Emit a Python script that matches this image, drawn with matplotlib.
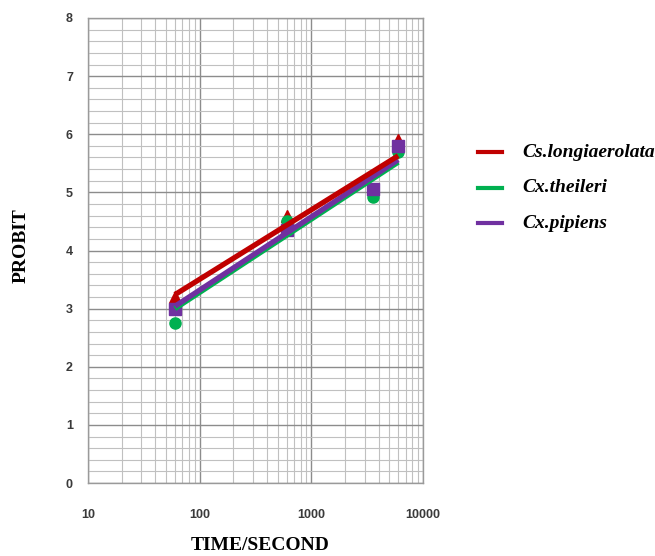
import numpy as np
import matplotlib
matplotlib.use("Agg")
import matplotlib.pyplot as plt
from matplotlib.ticker import FixedLocator, NullFormatter, LogLocator
from matplotlib.lines import Line2D

time_s = [60, 600, 3600, 6000]
species = ["Cs.longiaerolata", "Cx.theileri", "Cx.pipiens"]
probit_cs_longiaerolata = [3.2, 4.6, 5.05, 5.9]
probit_cx_theileri = [2.75, 4.5, 4.92, 5.7]
probit_cx_pipiens = [3.0, 4.35, 5.05, 5.8]
# trend lines (values at first and last time)
trend_time = [60, 6000]
trend_cs_longiaerolata = [3.24, 5.63]
trend_cx_theileri = [3.0, 5.52]
trend_cx_pipiens = [3.04, 5.56]
x_tick_labels = ["10", "100", "1000", "10000"]
y_ticks = [0, 1, 2, 3, 4, 5, 6, 7, 8]

colors = ["#C00000", "#00B050", "#7030A0"]
markers = ["^", "o", "s"]
series = [probit_cs_longiaerolata, probit_cx_theileri, probit_cx_pipiens]
trends = [trend_cs_longiaerolata, trend_cx_theileri, trend_cx_pipiens]

W, H = 655, 556
fig = plt.figure(figsize=(W / 100, H / 100), dpi=100)
ax = fig.add_axes([88 / W, 1 - 483 / H, 335 / W, 465 / H])
ax.set_xscale("log")
ax.set_xlim(10, 10000)
ax.set_ylim(0, 8)

# grid
ax.xaxis.set_major_locator(FixedLocator([10, 100, 1000, 10000]))
ax.xaxis.set_minor_locator(LogLocator(base=10, subs=np.arange(2, 10)))
ax.xaxis.set_minor_formatter(NullFormatter())
ax.yaxis.set_major_locator(FixedLocator(y_ticks))
ax.yaxis.set_minor_locator(FixedLocator(np.arange(0, 8.01, 0.2)))
ax.grid(which="major", color="#8c8c8c", linewidth=1.0)
ax.grid(which="minor", color="#c0c0c0", linewidth=0.8)
ax.set_axisbelow(True)
for s in ax.spines.values():
    s.set_color("#9a9a9a")
    s.set_linewidth(1.0)

tick_font = dict(family=["Liberation Sans Narrow", "Liberation Sans", "DejaVu Sans"],
                 weight="bold", size=9)
ax.set_xticklabels(x_tick_labels, **tick_font, color="#3a3a3a")
ax.set_yticklabels([str(v) for v in y_ticks], **tick_font, color="#3a3a3a")
ax.tick_params(which="both", length=0)
for lbl in ax.get_xticklabels():
    lbl.set_y(-0.055)
for lbl in ax.get_yticklabels():
    lbl.set_x(-0.045)
ax.tick_params(axis="x", pad=0)
ax.tick_params(axis="y", pad=0)

# markers
for ys, c, m in zip(series, colors, markers):
    ax.plot(time_s, ys, linestyle="none", marker=m, color=c, markersize=8, zorder=3)
# trend lines
for ts, c, z in zip(trends, colors, [4.6, 4.0, 4.4]):
    ax.plot(trend_time, ts, color=c, linewidth=3.8, solid_capstyle="butt", zorder=z)

serif = ["Liberation Serif", "DejaVu Serif"]
fig.text(260 / W, 1 - 545 / H, "TIME/SECOND", family=serif, weight="bold", size=14,
         ha="center", va="center")
fig.text(21 / W, 1 - 246 / H, "PROBIT", family=serif, weight="bold", size=14,
         ha="center", va="center", rotation=90)

# legend drawn in figure pixels
rows_y = [152, 188, 223]
for lab, c, yy in zip(species, colors, rows_y):
    fig.add_artist(Line2D([478 / W, 502 / W], [1 - yy / H, 1 - yy / H], color=c,
                          linewidth=3, transform=fig.transFigure))
    fig.text(522 / W, 1 - yy / H, lab, family=serif, weight="bold", style="italic",
             size=14, ha="left", va="center")

fig.savefig("out.png", dpi=100)
